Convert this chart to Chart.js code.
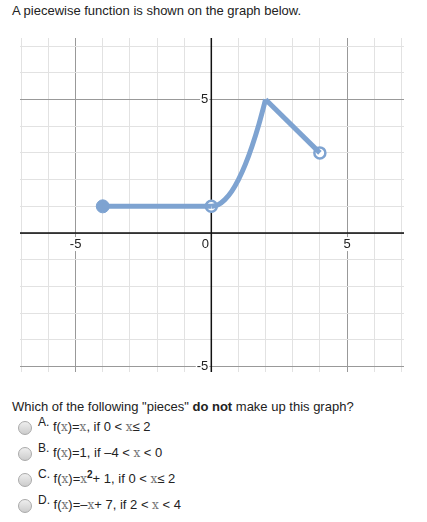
<!DOCTYPE html>
<html><head><meta charset="utf-8">
<script src="https://cdn.jsdelivr.net/npm/chart.js@4"></script>
<style>
body{margin:0;width:427px;height:522px;font-family:"Liberation Sans",Arial,sans-serif;color:#222;background:#fff;position:relative}
#title{position:absolute;left:12px;top:3px;font-size:13px}
#wrap{position:absolute;left:12px;top:30px;width:400px;height:350px}
#q{position:absolute;left:12px;top:399px;font-size:13px;color:#222}
.opt{position:absolute;left:18px;font-size:13px;height:20px}
.opt .r{display:inline-block;width:12px;height:12px;border-radius:50%;border:1px solid #aaa;background:linear-gradient(#eee,#ccc);vertical-align:middle;margin-right:6px}
.m{font-family:"DejaVu Serif",serif;color:#777;font-size:12px}
sup{font-size:10px;font-weight:bold}
</style></head><body>
<div id="title">A piecewise function is shown on the graph below.</div>
<div id="wrap"><canvas id="c"></canvas></div>
<div id="q">Which of the following "pieces" <b>do not</b> make up this graph?</div>
<div class="opt" style="top:415px"><span class="r"></span><sup style="font-weight:normal;font-size:12px">A.</sup> f(<span class="m">x</span>)=<span class="m">x</span>, if 0 &lt; <span class="m">x</span>≤ 2</div>
<div class="opt" style="top:441px"><span class="r"></span><sup style="font-weight:normal;font-size:12px">B.</sup> f(<span class="m">x</span>)=1, if –4 &lt; <span class="m">x</span> &lt; 0</div>
<div class="opt" style="top:467px"><span class="r"></span><sup style="font-weight:normal;font-size:12px">C.</sup> f(<span class="m">x</span>)=<span class="m">x</span><sup>2</sup>+ 1, if 0 &lt; <span class="m">x</span>≤ 2</div>
<div class="opt" style="top:493px"><span class="r"></span><sup style="font-weight:normal;font-size:12px">D.</sup> f(<span class="m">x</span>)=–<span class="m">x</span>+ 7, if 2 &lt; <span class="m">x</span> &lt; 4</div>
<script>
const flatPiece = [{x: -4, y: 1}, {x: 0, y: 1}];
const curvePiece = [{x: 0, y: 1}, {x: 0.25, y: 1.06}, {x: 0.5, y: 1.25}, {x: 0.75, y: 1.56}, {x: 1, y: 2},
  {x: 1.25, y: 2.56}, {x: 1.5, y: 3.25}, {x: 1.75, y: 4.06}, {x: 2, y: 5}];
const linePiece = [{x: 2, y: 5}, {x: 4, y: 3}];
const closedDots = [{x: -4, y: 1}];
const openDots = [{x: 0, y: 1}, {x: 4, y: 3}];
const xLabels = [-5, 0, 5];
const yLabels = [5, -5];

const blue = '#7ea3d1';

const axesPlugin = {
  id: 'axes',
  beforeDatasetsDraw(chart) {
    const {ctx, chartArea: a, scales: {x, y}} = chart;
    const x0 = x.getPixelForValue(0), y0 = y.getPixelForValue(0);
    ctx.save();
    ctx.strokeStyle = '#111';
    ctx.lineWidth = 1.5;
    ctx.beginPath();
    ctx.moveTo(a.left, y0); ctx.lineTo(a.right, y0);
    ctx.moveTo(x0, a.top); ctx.lineTo(x0, a.bottom);
    ctx.stroke();
    ctx.fillStyle = '#222';
    ctx.font = '13px "Liberation Sans", Arial';
    ctx.textAlign = 'center';
    ctx.textBaseline = 'top';
    xLabels.forEach(v => {
      const px = x.getPixelForValue(v) - (v === 0 ? 6 : 0);
      ctx.fillStyle = '#fff';
      const w = ctx.measureText(String(v)).width;
      ctx.fillRect(px - w / 2 - 1, y0 + 4, w + 2, 14);
      ctx.fillStyle = '#222';
      ctx.fillText(String(v), px, y0 + 5);
    });
    ctx.textAlign = 'right';
    ctx.textBaseline = 'middle';
    yLabels.forEach(v => {
      const py = y.getPixelForValue(v);
      const w = ctx.measureText(String(v)).width;
      ctx.fillStyle = '#fff';
      ctx.fillRect(x0 - 3 - w - 1, py - 7, w + 2, 14);
      ctx.fillStyle = '#222';
      ctx.fillText(String(v), x0 - 3, py);
    });
    ctx.restore();
  }
};

const lineDs = (data) => ({data, showLine: true, borderColor: blue, borderWidth: 5, pointRadius: 0, tension: 0.3, fill: false});

new Chart(document.getElementById('c'), {
  type: 'scatter',
  data: {
    datasets: [
      lineDs(flatPiece),
      lineDs(curvePiece),
      {...lineDs(linePiece), tension: 0},
      {data: closedDots, pointRadius: 6.5, backgroundColor: blue, borderColor: blue, borderWidth: 1},
      {data: openDots, pointRadius: 5.5, backgroundColor: '#fff', borderColor: blue, borderWidth: 2.5}
    ]
  },
  options: {
    responsive: true, maintainAspectRatio: false, animation: false,
    layout: {padding: 0},
    plugins: {legend: {display: false}, tooltip: {enabled: false}},
    scales: {
      x: {type: 'linear', min: -7.05, max: 7.1, border: {display: false},
        ticks: {display: false, stepSize: 1},
        afterBuildTicks: s => { s.ticks = []; for (let v = -7; v <= 7; v++) s.ticks.push({value: v}); },
        grid: {color: c => c.tick.value % 5 === 0 ? '#999' : '#e2e2e2', lineWidth: 1, drawTicks: false}},
      y: {type: 'linear', min: -5.2, max: 7.3, border: {display: false},
        ticks: {display: false, stepSize: 1},
        afterBuildTicks: s => { s.ticks = []; for (let v = -5; v <= 7; v++) s.ticks.push({value: v}); },
        grid: {color: c => c.tick.value % 5 === 0 ? '#999' : '#e2e2e2', lineWidth: 1, drawTicks: false}}
    }
  },
  plugins: [axesPlugin]
});
</script>
</body></html>
